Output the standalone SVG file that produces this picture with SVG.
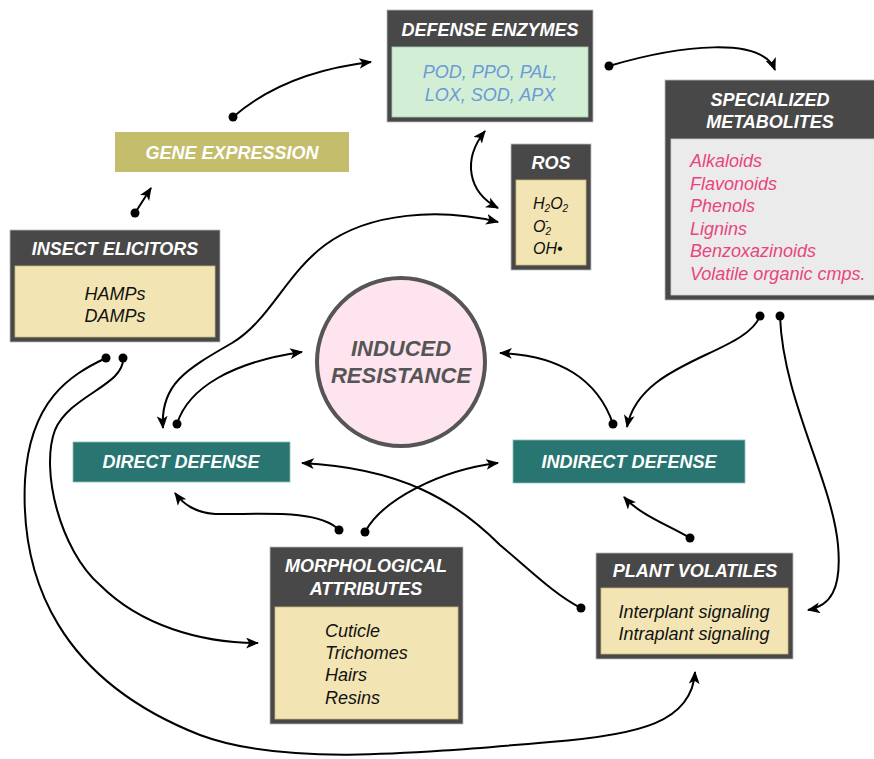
<svg xmlns="http://www.w3.org/2000/svg" width="874" height="759" viewBox="0 0 874 759">
<defs>
<style>
.outer{fill:#484848;stroke:#bbbbbb;stroke-width:0.8}
.tan{fill:#f3e5b3;stroke:#c9b77a;stroke-width:0.8}
.green{fill:#d2efd5;stroke:#a9cdb0;stroke-width:0.8}
.gray{fill:#ebebeb;stroke:#cccccc;stroke-width:0.8}
.hdr{font-family:"Liberation Sans",Arial,sans-serif;font-weight:bold;font-style:italic;font-size:18px;fill:#ffffff;text-anchor:middle}
.body{font-family:"Liberation Sans",Arial,sans-serif;font-style:italic;font-size:18px;fill:#111111}
.ros{font-family:"Liberation Sans",Arial,sans-serif;font-style:italic;font-size:16px;fill:#111111}
.enz{font-family:"Liberation Sans",Arial,sans-serif;font-style:italic;font-size:18px;fill:#6b9ad8;text-anchor:middle}
.met{font-family:"Liberation Sans",Arial,sans-serif;font-style:italic;font-size:18px;fill:#e8457d}
.conn{fill:none;stroke:#000000;stroke-width:2}
.dot{fill:#000000}
</style>
<marker id="arr" viewBox="0 0 12 10" refX="11" refY="5" markerWidth="13" markerHeight="11" markerUnits="userSpaceOnUse" orient="auto-start-reverse">
<path d="M0,0 L12,5 L0,10 L3,5 Z" fill="#000000"/>
</marker>
</defs>
<rect width="874" height="759" fill="#ffffff"/>

<g id="connectors">
<path class="conn" d="M135,213 L151,188" marker-end="url(#arr)"/>
<circle class="dot" cx="135" cy="213" r="4.5"/>
<path class="conn" d="M233,117 Q285,72 371,62" marker-end="url(#arr)"/>
<circle class="dot" cx="233" cy="117" r="4.5"/>
<path class="conn" d="M609,66 C680,45 762,36 775,70" marker-end="url(#arr)"/>
<circle class="dot" cx="609" cy="66" r="4.5"/>
<path class="conn" d="M485,131 C462,160 468,192 498,208" marker-start="url(#arr)" marker-end="url(#arr)"/>
<path class="conn" d="M498,222 C440,208 370,212 325,245 C285,275 270,320 232,343 C185,370 160,385 163,428" marker-start="url(#arr)" marker-end="url(#arr)"/>
<path class="conn" d="M177,424 C188,388 232,362 302,352" marker-end="url(#arr)"/>
<circle class="dot" cx="177" cy="424" r="4.5"/>
<path class="conn" d="M613,424 C598,380 560,355 500,353" marker-end="url(#arr)"/>
<circle class="dot" cx="613" cy="424" r="4.5"/>
<path class="conn" d="M760,316 C745,355 640,360 627,427" marker-end="url(#arr)"/>
<circle class="dot" cx="760" cy="316" r="4.5"/>
<path class="conn" d="M780,316 C783,400 832,480 838,545 C842,590 830,606 808,610" marker-end="url(#arr)"/>
<circle class="dot" cx="780" cy="316" r="4.5"/>
<path class="conn" d="M690,538 C670,526 640,515 624,497" marker-end="url(#arr)"/>
<circle class="dot" cx="690" cy="538" r="4.5"/>
<path class="conn" d="M339,530 C318,508 255,515 215,514 C195,512 184,505 175,493" marker-end="url(#arr)"/>
<circle class="dot" cx="339" cy="530" r="4.5"/>
<path class="conn" d="M365,532 C382,500 440,470 498,463" marker-end="url(#arr)"/>
<circle class="dot" cx="365" cy="532" r="4.5"/>
<path class="conn" d="M581,608 C555,595 530,570 500,545 C455,500 400,468 302,463" marker-end="url(#arr)"/>
<circle class="dot" cx="581" cy="608" r="4.5"/>
<path class="conn" d="M123,358 C125,385 70,395 55,430 C40,470 60,550 100,585 C140,625 200,643 258,643" marker-end="url(#arr)"/>
<circle class="dot" cx="123" cy="358" r="4.5"/>
<path class="conn" d="M106,358 C70,375 30,400 25,480 C20,580 60,680 200,735 C280,765 400,755 550,742 C640,735 692,722 695,672" marker-end="url(#arr)"/>
<circle class="dot" cx="106" cy="358" r="4.5"/>
</g>

<g id="defense-enzymes">
<rect class="outer" x="387" y="10" width="206" height="112"/>
<text class="hdr" x="490" y="36">DEFENSE ENZYMES</text>
<rect class="green" x="392" y="47" width="196" height="70"/>
<text class="enz" x="490" y="78">POD, PPO, PAL,</text>
<text class="enz" x="490" y="101">LOX, SOD, APX</text>
</g>

<g id="gene-expression">
<rect x="115" y="132" width="234" height="40" fill="#c4bd6b"/>
<text class="hdr" x="232" y="159">GENE EXPRESSION</text>
</g>

<g id="ros">
<rect class="outer" x="511" y="144" width="80" height="126"/>
<text class="hdr" x="551" y="169">ROS</text>
<rect class="tan" x="516" y="180" width="70" height="85"/>
<text class="ros" x="533" y="209">H<tspan font-size="10" dy="3">2</tspan><tspan dy="-3">O</tspan><tspan font-size="10" dy="3">2</tspan></text>
<text class="ros" x="533" y="232">O<tspan font-size="10" dy="3">2</tspan><tspan font-size="10" dx="-6" dy="-11">-</tspan></text>
<text class="ros" x="533" y="254">OH•</text>
</g>

<g id="specialized-metabolites">
<rect class="outer" x="665" y="80" width="215" height="220"/>
<text class="hdr" x="770" y="106">SPECIALIZED</text>
<text class="hdr" x="770" y="128">METABOLITES</text>
<rect class="gray" x="671" y="139" width="209" height="156"/>
<text class="met" x="690" y="167">Alkaloids</text>
<text class="met" x="690" y="190">Flavonoids</text>
<text class="met" x="690" y="212">Phenols</text>
<text class="met" x="690" y="235">Lignins</text>
<text class="met" x="690" y="257">Benzoxazinoids</text>
<text class="met" x="690" y="280">Volatile organic cmps.</text>
</g>

<g id="insect-elicitors">
<rect class="outer" x="10" y="230" width="210" height="112"/>
<text class="hdr" x="115" y="255">INSECT ELICITORS</text>
<rect class="tan" x="15" y="266" width="200" height="71"/>
<text class="body" x="115" y="300" text-anchor="middle">HAMPs</text>
<text class="body" x="115" y="322" text-anchor="middle">DAMPs</text>
</g>

<g id="induced-resistance">
<circle cx="401" cy="362" r="84" fill="#fde4ee" stroke="#555555" stroke-width="4"/>
<text class="hdr" x="401" y="356" style="fill:#555555;font-size:22px">INDUCED</text>
<text class="hdr" x="401" y="383" style="fill:#555555;font-size:22px">RESISTANCE</text>
</g>

<g id="direct-defense">
<rect x="73" y="442" width="217" height="40" fill="#287572" stroke="#8fbcb8" stroke-width="0.8"/>
<text class="hdr" x="181" y="468">DIRECT DEFENSE</text>
</g>

<g id="indirect-defense">
<rect x="513" y="440" width="232" height="43" fill="#287572" stroke="#8fbcb8" stroke-width="0.8"/>
<text class="hdr" x="629" y="468">INDIRECT DEFENSE</text>
</g>

<g id="morphological-attributes">
<rect class="outer" x="270" y="547" width="193" height="177"/>
<text class="hdr" x="366" y="572">MORPHOLOGICAL</text>
<text class="hdr" x="366" y="595">ATTRIBUTES</text>
<rect class="tan" x="275" y="607" width="183" height="112"/>
<text class="body" x="325" y="637">Cuticle</text>
<text class="body" x="325" y="659">Trichomes</text>
<text class="body" x="325" y="681">Hairs</text>
<text class="body" x="325" y="704">Resins</text>
</g>

<g id="plant-volatiles">
<rect class="outer" x="596" y="553" width="197" height="106"/>
<text class="hdr" x="695" y="577">PLANT VOLATILES</text>
<rect class="tan" x="601" y="588" width="187" height="66"/>
<text class="body" x="694" y="618" text-anchor="middle">Interplant signaling</text>
<text class="body" x="694" y="640" text-anchor="middle">Intraplant signaling</text>
</g>
</svg>
